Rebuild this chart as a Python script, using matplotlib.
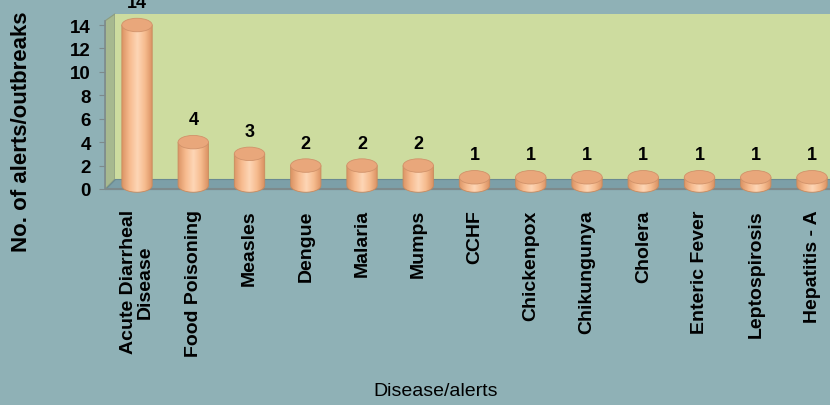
import numpy as np
import matplotlib.pyplot as plt
from matplotlib.patches import Polygon, Ellipse, PathPatch
from matplotlib.path import Path
from matplotlib.colors import LinearSegmentedColormap

diseases = ["Acute Diarrheal\nDisease", "Food Poisoning", "Measles", "Dengue", "Malaria",
            "Mumps", "CCHF", "Chickenpox", "Chikungunya", "Cholera", "Enteric Fever",
            "Leptospirosis", "Hepatitis - A"]
alerts = [14, 4, 3, 2, 2, 2, 1, 1, 1, 1, 1, 1, 1]
yticks = [0, 2, 4, 6, 8, 10, 12, 14]

plt.rcParams['font.family'] = ['Liberation Sans', 'DejaVu Sans']

bg = "#8fb1b6"
fig = plt.figure(figsize=(8.3, 4.06), dpi=100, facecolor=bg)
ax = fig.add_axes([105/830, 1 - 193.5/406, 725/830, (193.5 - 14.3)/406])
ax.set_facecolor("none")
ax.set_xlim(-0.569, 12.32)
ax.set_ylim(-0.3, 15)

# depth offsets in data units (10 px right, 10 px up)
dx = 10/56.25
dy = 10/11.71
x0 = -0.569
xr = 12.32

# side wall, back wall, floor
ax.add_patch(Polygon([[x0, 0], [x0 + dx, dy], [x0 + dx, 14.95], [x0, 14.95 - dy*0.7]],
                     closed=True, fc="#a7b98f", ec="#8d9c80", lw=0.8, zorder=1))
ax.add_patch(Polygon([[x0 + dx, dy], [xr, dy], [xr, 14.95], [x0 + dx, 14.95]],
                     closed=True, fc="#cddc9f", ec="none", zorder=1))
ax.add_patch(Polygon([[x0, 0], [xr, 0], [xr, dy], [x0 + dx, dy]],
                     closed=True, fc="#7c9fa8", ec="#6a8a92", lw=0.8, zorder=1))
ax.plot([x0, xr], [0, 0], color="#7d8a8c", lw=1.5, zorder=1)

cmap = LinearSegmentedColormap.from_list("cyl", ["#dc9566", "#f7bb8f", "#fdd6b6", "#f6bb8e", "#d98f60"])
grad = np.linspace(0, 1, 100).reshape(1, -1)
w = 0.54
eh = 1.15
xs = np.arange(len(alerts))
for x, v in zip(xs, alerts):
    # body with rounded bottom
    t = np.linspace(np.pi, 2*np.pi, 30)
    bottom = [(x + w/2*np.cos(a), dy*0.35 + eh/2*np.sin(a)) for a in t]
    verts = [(x - w/2, v)] + bottom + [(x + w/2, v), (x - w/2, v)]
    path = Path(verts)
    clip = PathPatch(path, fc="none", ec="none")
    ax.add_patch(clip)
    im = ax.imshow(grad, cmap=cmap, aspect="auto", extent=(x - w/2, x + w/2, dy*0.35 - eh/2, v),
                   zorder=3)
    im.set_clip_path(clip)
    ax.add_patch(PathPatch(path, fc="none", ec="#c98a5e", lw=0.6, zorder=3))
    ax.add_patch(Ellipse((x, v), w, eh, fc="#e9a77b", ec="#d1926a", lw=0.6, zorder=4))
    ax.text(x, v + 1.2, str(v), ha="center", va="bottom", fontsize=13, fontweight="bold",
            color="black", zorder=5)

ax.set_xticks(xs)
ax.set_xticklabels(diseases, rotation=90, fontsize=14, fontweight="bold", va="top",
                   ha="center", multialignment="center", linespacing=1.0)
ax.set_yticks(yticks)
ax.set_yticklabels([str(t) for t in yticks], fontsize=13.5, fontweight="bold")
ax.tick_params(axis="x", length=0, pad=12)
ax.tick_params(axis="y", length=4, color="#7d8a8c", pad=6)
for s in ["top", "right", "bottom"]:
    ax.spines[s].set_visible(False)
ax.spines["left"].set_color("#7d8a8c")
ax.spines["left"].set_linewidth(1.2)
ax.spines["left"].set_bounds(0, 14.95 - dy*0.7)

fig.text(22/830, 1 - 132/406, "No. of alerts/outbreaks", rotation=90, ha="center", va="center",
         fontsize=16, fontweight="bold")
fig.text(436/830, 1 - 392/406, "Disease/alerts", ha="center", va="center", fontsize=14)

fig.savefig("out.png", dpi=100, facecolor=bg)
